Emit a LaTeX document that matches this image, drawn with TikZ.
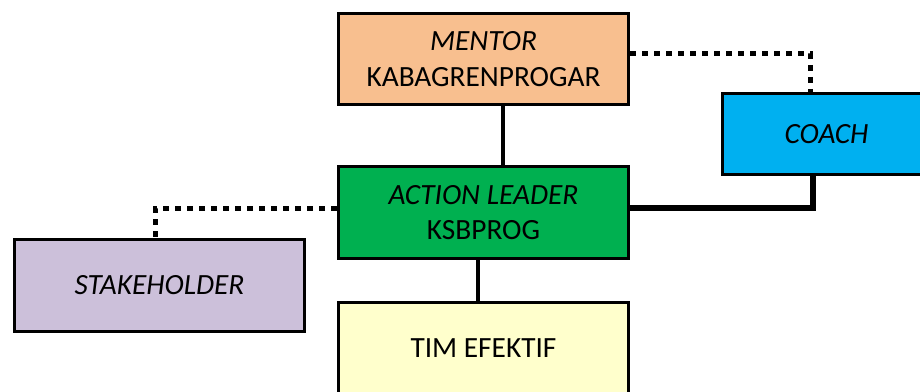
\documentclass[tikz,border=0pt]{standalone}
\usepackage{fontspec}
\setmainfont{Carlito}
\usetikzlibrary{calc}
\definecolor{peach}{HTML}{F8BF8F}
\definecolor{coachblue}{HTML}{00B0F0}
\definecolor{algreen}{HTML}{00B050}
\definecolor{lav}{HTML}{CCC0DA}
\definecolor{pale}{HTML}{FFFFCC}
\tikzset{
  box/.style={draw=black, line width=2.25pt, anchor=north west, inner sep=0pt,
    align=center, font=\fontsize{22}{26.5}\selectfont, minimum height=92*0.75pt},
  solidcon/.style={line width=3pt},
  thickcon/.style={line width=4.5pt},
  dotcon/.style={line width=3.75pt, dash pattern=on 4.5pt off 4.5pt},
}
\begin{document}
\begin{tikzpicture}[x=0.75pt,y=-0.75pt]
\useasboundingbox (0,0) rectangle (920,392);
\clip (0,0) rectangle (920,392);
\node[box, fill=peach, minimum width=290*0.75pt, minimum height=91*0.75pt] (mentor) at (337,12) {\textit{MENTOR}\\KABAGRENPROGAR};
\node[box, fill=coachblue, minimum width=208*0.75pt, minimum height=81*0.75pt] (coach) at (721,92) {\textit{COACH}};
\node[box, fill=algreen, minimum width=290*0.75pt] (al) at (337,165) {\textit{ACTION LEADER}\\KSBPROG};
\node[box, fill=lav, minimum width=290*0.75pt] (stake) at (13,238) {\textit{STAKEHOLDER}};
\node[box, fill=pale, minimum width=290*0.75pt] (tim) at (337,301) {TIM EFEKTIF};
\draw[solidcon] ($(mentor.south)+(19,0)$) -- ($(al.north)+(19,0)$);
\draw[solidcon] ($(al.south)+(-6,0)$) -- ($(tim.north)+(-6,0)$);
\draw[thickcon] ($(al.east)+(0,-5)$) -| ($(coach.south)+(-14,0)$);
\draw[dotcon] ($(mentor.east)+(0,-5.5)$) -| ($(coach.north)+(-16,0)$);
\draw[dotcon] ($(al.west)+(0,-4)$) -| ($(stake.north)+(-4,0)$);
\end{tikzpicture}
\end{document}
